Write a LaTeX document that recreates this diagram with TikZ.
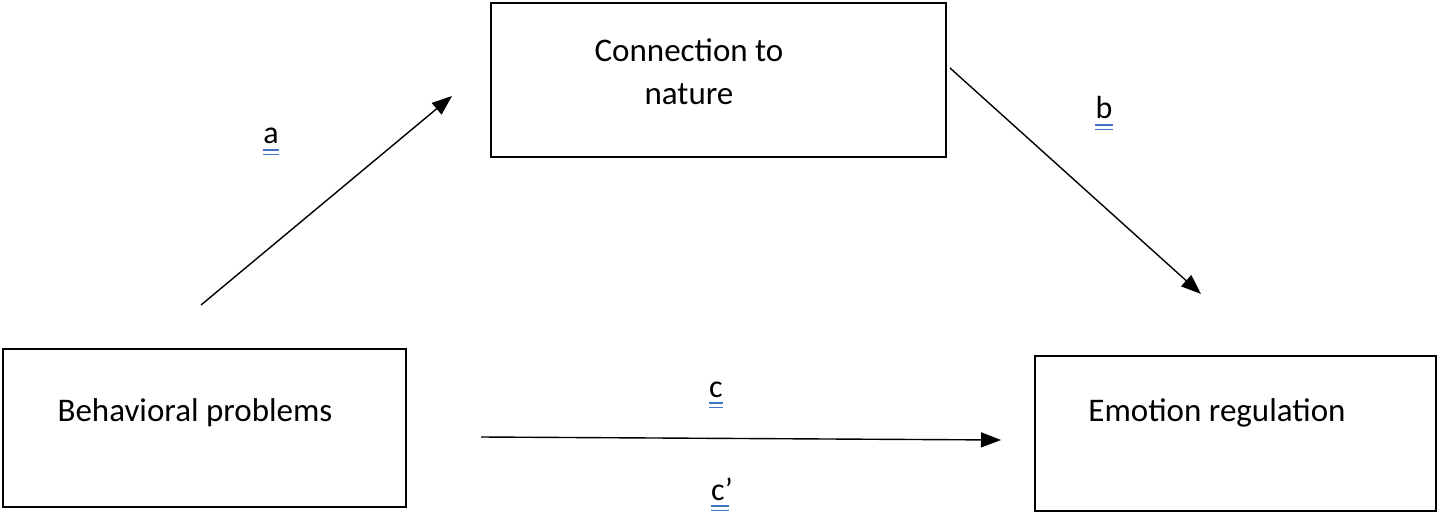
\documentclass[tikz,border=0pt]{standalone}
\usepackage{fontspec}
\setmainfont{Carlito}
\usetikzlibrary{arrows.meta}
\definecolor{ulblue}{HTML}{4472C4}
\tikzset{
  txt/.style={font=\fontsize{33}{43}\selectfont, align=center, inner sep=0pt},
  lbl/.style={font=\fontsize{32}{38}\selectfont, inner sep=0pt, anchor=base},
  conn/.style={line width=1.4pt, -{Triangle[length=20pt,width=15pt]}},
  ul/.style={draw=ulblue, line width=1.6pt}
}
\begin{document}
\begin{tikzpicture}[x=1pt,y=-1pt]
\useasboundingbox (0,0) rectangle (1441,516);
% boxes
\draw[line width=2.6pt] (491,3) rectangle (946,157);
\draw[line width=2.6pt] (3,349) rectangle (406,507);
\draw[line width=2.6pt] (1035,356) rectangle (1436,511);
\node[txt] (cn) at (689,72) {Connection to\\nature};
\node[txt] (bp) at (195,413) {Behavioral problems};
\node[txt] (er) at (1217,413) {Emotion regulation};
% arrow ends
\coordinate (a1) at (201,305);
\coordinate (a2) at (452,96);
\coordinate (b1) at (950,68);
\coordinate (b2) at (1201,294);
\coordinate (c1) at (481,437);
\coordinate (c2) at (1001,440);
\draw[conn] (a1) -- (a2);
\draw[conn] (b1) -- (b2);
\draw[conn] (c1) -- (c2);
% labels
\node[lbl] (la) at (271,144) {a};
\node[lbl] (lb) at (1104,119) {b};
\node[lbl] (lc) at (716,397) {c};
\node[lbl] (lcp) at (722,500) {c’};
\foreach \n in {la,lb,lc}{
  \draw[ul] ([yshift=-6pt]\n.base west) -- ([yshift=-6pt]\n.base east);
  \draw[ul] ([yshift=-10.5pt]\n.base west) -- ([yshift=-10.5pt]\n.base east);
}
\draw[ul] ([yshift=-6pt]lcp.base west) -- ([xshift=-4pt,yshift=-6pt]lcp.base east);
\draw[ul] ([yshift=-10.5pt]lcp.base west) -- ([xshift=-4pt,yshift=-10.5pt]lcp.base east);
\end{tikzpicture}
\end{document}
